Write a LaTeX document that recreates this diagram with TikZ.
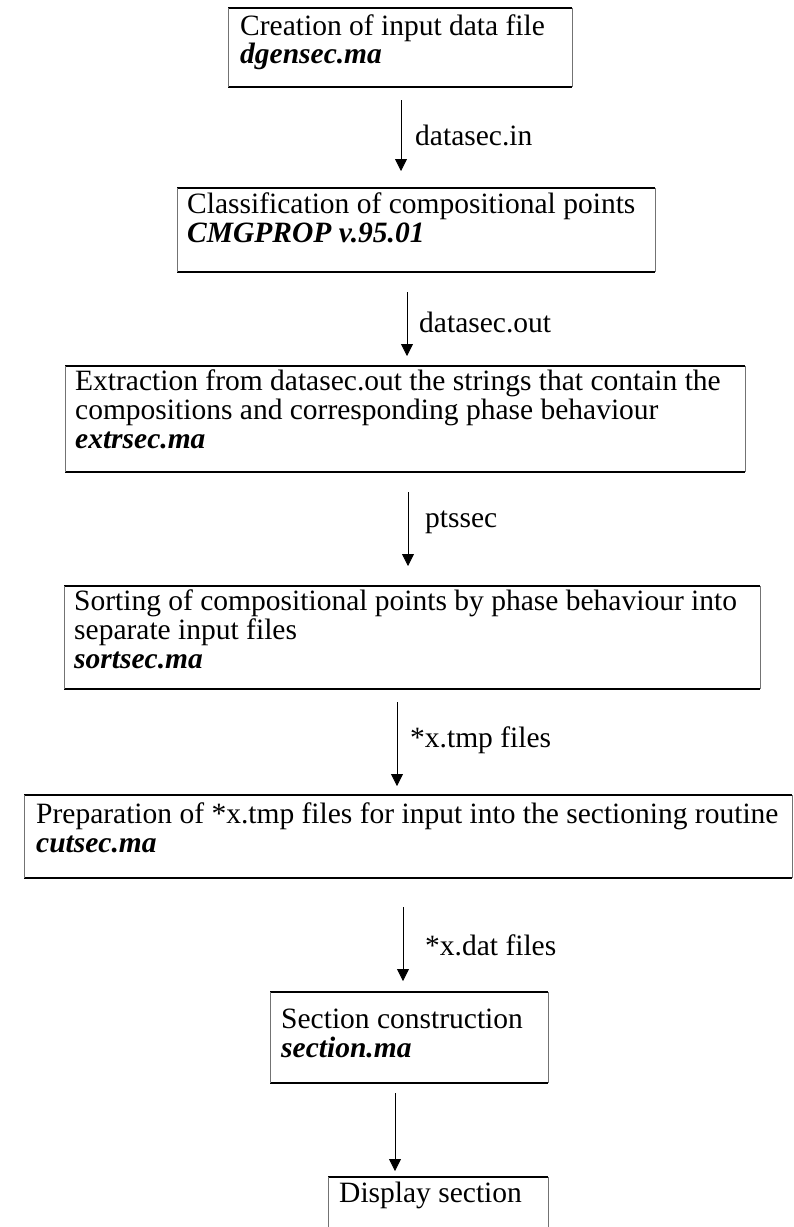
\documentclass[tikz,border=0pt]{standalone}
\usepackage{fontspec}
\setmainfont{Liberation Serif}
\usetikzlibrary{arrows.meta}
\tikzset{
  boxnode/.style={draw=none,inner sep=0pt,anchor=north west},
  txt/.style={inner sep=0pt,anchor=base west,font=\fontsize{29.5}{30}\selectfont},
  fname/.style={inner sep=0pt,anchor=base west,font=\fontsize{29.5}{30}\selectfont\bfseries\itshape},
  lbl/.style={inner sep=0pt,anchor=base west,font=\fontsize{29.5}{30}\selectfont},
  hline/.style={line width=2pt,black},
  vline/.style={line width=0.7pt,black!55},
  arr/.style={line width=0.8pt,black,-{Triangle[width=12pt,length=12pt]}}
}
\newcommand{\flowframe}[1]{%
  \draw[hline] (#1.north west) -- (#1.north east);
  \draw[hline] (#1.south west) -- (#1.south east);
  \draw[vline] (#1.north west) -- (#1.south west);
  \draw[vline] (#1.north east) -- (#1.south east);}
\begin{document}
\begin{tikzpicture}[x=1pt,y=-1pt]
\useasboundingbox (0,0) rectangle (794,1227);
% boxes
\node[boxnode,minimum width=344pt,minimum height=79pt] (b1) at (228,8) {};
\node[boxnode,minimum width=478pt,minimum height=84pt] (b2) at (177,188) {};
\node[boxnode,minimum width=680pt,minimum height=106pt] (b3) at (65,366) {};
\node[boxnode,minimum width=696pt,minimum height=103pt] (b4) at (64,586) {};
\node[boxnode,minimum width=768pt,minimum height=83pt] (b5) at (24,795) {};
\node[boxnode,minimum width=278pt,minimum height=91pt] (b6) at (270,992) {};
\node[boxnode,minimum width=220pt,minimum height=70pt] (b7) at (328,1177) {};
\flowframe{b1}
\flowframe{b2}
\flowframe{b3}
\flowframe{b4}
\flowframe{b5}
\flowframe{b6}
\draw[hline] (b7.north west) -- (b7.north east);
\draw[vline] (b7.north west) -- (b7.south west);
\draw[vline] (b7.north east) -- (b7.south east);
% texts
\node[txt] (t1a) at (240,35) {Creation of input data file};
\node[fname] (t1b) at (240,63) {dgensec.ma};
\node[txt] (t2a) at (187,213) {Classification of compositional points};
\node[fname] (t2b) at (187,242) {CMGPROP v.95.01};
\node[txt] (t3a) at (75,390) {Extraction from datasec.out the strings that contain the};
\node[txt] (t3b) at (75,419) {compositions and corresponding phase behaviour};
\node[fname] (t3c) at (75,448) {extrsec.ma};
\node[txt] (t4a) at (74,610) {Sorting of compositional points by phase behaviour into};
\node[txt] (t4b) at (74,639) {separate input files};
\node[fname] (t4c) at (74,668) {sortsec.ma};
\node[txt] (t5a) at (36,823) {Preparation of *x.tmp files for input into the sectioning routine};
\node[fname] (t5b) at (36,852) {cutsec.ma};
\node[txt] (t6a) at (281,1028) {Section construction};
\node[fname] (t6b) at (281,1057) {section.ma};
\node[txt] (t7a) at (339,1202) {Display section};
% arrows
\coordinate (a1s) at (401,100); \coordinate (a1e) at (401,171);
\coordinate (a2s) at (407,292); \coordinate (a2e) at (407,356);
\coordinate (a3s) at (408,492); \coordinate (a3e) at (408,566);
\coordinate (a4s) at (397,702); \coordinate (a4e) at (397,786);
\coordinate (a5s) at (403,907); \coordinate (a5e) at (403,981);
\coordinate (a6s) at (395,1093); \coordinate (a6e) at (395,1171);
\draw[arr] (a1s) -- (a1e);
\draw[arr] (a2s) -- (a2e);
\draw[arr] (a3s) -- (a3e);
\draw[arr] (a4s) -- (a4e);
\draw[arr] (a5s) -- (a5e);
\draw[arr] (a6s) -- (a6e);
\node[lbl] (l1) at (415,145) {datasec.in};
\node[lbl] (l2) at (419,332) {datasec.out};
\node[lbl] (l3) at (425,527) {ptssec};
\node[lbl] (l4) at (410,747) {*x.tmp files};
\node[lbl] (l5) at (425,955) {*x.dat files};
\end{tikzpicture}
\end{document}
